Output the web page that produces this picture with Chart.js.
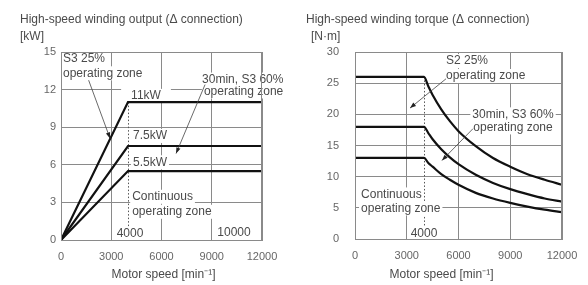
<!DOCTYPE html>
<html><head><meta charset="utf-8">
<script src="https://cdn.jsdelivr.net/npm/chart.js@4.4.1/dist/chart.umd.min.js"></script>
<style>
html,body{margin:0;padding:0;background:#fff;width:588px;height:285px;overflow:hidden}
canvas{position:absolute;top:0}
</style></head><body>
<canvas id="outChart" style="left:0" width="294" height="285"></canvas>
<canvas id="torqueChart" style="left:294px" width="294" height="285"></canvas>
<script>
// ---- Data: output chart (kW) ----
const outputSpeed = [0, 4000, 12000];
const output11kW = [0, 11, 11];
const output75kW = [0, 7.5, 7.5];
const output55kW = [0, 5.5, 5.5];
// ---- Data: torque chart (N·m) ----
const torqueSpeed = [0, 4000, 4250, 4500, 5000, 5500, 6000, 7000, 8000, 9000, 10000, 11000, 12000];
const torqueS2 = [26, 26, 24.5, 23.1, 20.8, 18.9, 17.3, 14.9, 13.0, 11.6, 10.4, 9.5, 8.7];
const torque30min = [18, 18, 17.0, 16.0, 14.4, 13.1, 12.0, 10.3, 9.0, 8.0, 7.2, 6.5, 6.0];
const torqueCont = [13, 13, 12.2, 11.6, 10.4, 9.5, 8.7, 7.4, 6.5, 5.8, 5.2, 4.7, 4.3];
// ---- Tick labels ----
const speedTicks = [0, 3000, 6000, 9000, 12000];
const outputTicks = [0, 3, 6, 9, 12, 15];
const torqueTicks = [0, 5, 10, 15, 20, 25, 30];
// ---- Texts ----
const outTitle = 'High-speed winding output (Δ connection)';
const outUnit = '[kW]';
const torqueTitle = 'High-speed winding torque (Δ connection)';
const torqueUnit = '[N·m]';
const speedTitle = 'Motor speed [min⁻¹]';

const FONT = '"Liberation Sans", Arial, Helvetica, sans-serif';
const TXT = '#4a4a4a';
const GRID = '#8a8a8a';

function pts(xs, ys) { return xs.map((x, i) => ({x: x, y: ys[i]})); }

function drawArrow(ctx, x0, y0, x1, y1) {
  ctx.beginPath(); ctx.moveTo(x0, y0); ctx.lineTo(x1, y1); ctx.stroke();
  const a = Math.atan2(y1 - y0, x1 - x0), L = 6, W = 2.2;
  ctx.beginPath();
  ctx.moveTo(x1, y1);
  ctx.lineTo(x1 - L * Math.cos(a) + W * Math.sin(a), y1 - L * Math.sin(a) - W * Math.cos(a));
  ctx.lineTo(x1 - L * Math.cos(a) - W * Math.sin(a), y1 - L * Math.sin(a) + W * Math.cos(a));
  ctx.closePath(); ctx.fill();
}

const annotPlugin = {
  id: 'annot',
  beforeDatasetsDraw(chart, args, o) {
    const ctx = chart.ctx, xs = chart.scales.x, ys = chart.scales.y;
    ctx.save();
    if (o.marker) {
      ctx.strokeStyle = '#555'; ctx.lineWidth = 1; ctx.setLineDash([1.5, 2]);
      const x = Math.round(xs.getPixelForValue(o.marker.x)) + 0.5;
      ctx.beginPath();
      ctx.moveTo(x, ys.getPixelForValue(o.marker.y0));
      ctx.lineTo(x, ys.getPixelForValue(o.marker.y1));
      ctx.stroke(); ctx.setLineDash([]);
    }
    ctx.font = '12px ' + FONT; ctx.textBaseline = 'middle'; ctx.textAlign = 'left';
    const items = o.labels.map(l => {
      const px = xs.getPixelForValue(l.x), py = ys.getPixelForValue(l.y);
      const w = ctx.measureText(l.text).width;
      const left = l.align === 'left' ? px : (l.align === 'right' ? px - w : px - w / 2);
      return {l, left, py, w};
    });
    ctx.fillStyle = '#fff';
    items.forEach(it => {
      const p = it.l.padX !== undefined ? it.l.padX : 2;
      ctx.fillRect(it.left - p, it.py - 7, it.w + 2 * p, 14);
    });
    ctx.fillStyle = TXT;
    items.forEach(it => ctx.fillText(it.l.text, it.left, it.py));
    ctx.restore();
  },
  afterDatasetsDraw(chart, args, o) {
    const ctx = chart.ctx, xs = chart.scales.x, ys = chart.scales.y, a = chart.chartArea;
    ctx.save();
    ctx.strokeStyle = GRID; ctx.lineWidth = 1;
    ctx.beginPath();
    ctx.moveTo(a.left, Math.round(a.top) + 0.5); ctx.lineTo(a.right, Math.round(a.top) + 0.5);
    ctx.moveTo(Math.round(a.right) - 0.5, a.top); ctx.lineTo(Math.round(a.right) - 0.5, a.bottom);
    ctx.stroke();
    ctx.strokeStyle = '#444'; ctx.fillStyle = '#222'; ctx.lineWidth = 0.8;
    (o.leaders || []).forEach(l => drawArrow(ctx,
      xs.getPixelForValue(l.x0), ys.getPixelForValue(l.y0),
      xs.getPixelForValue(l.x1), ys.getPixelForValue(l.y1)));
    ctx.restore();
  },
  afterDraw(chart, args, o) {
    const ctx = chart.ctx, a = chart.chartArea;
    ctx.save();
    ctx.fillStyle = TXT; ctx.textBaseline = 'middle';
    ctx.font = '12px ' + FONT;
    ctx.textAlign = 'left';
    ctx.fillText(o.title, o.titleX, 20);
    ctx.fillText(o.unit, o.unitX, 37);
    ctx.textAlign = 'center';
    ctx.fillText(speedTitle, (a.left + a.right) / 2 + o.xTitleShift, 275);
    ctx.restore();
  }
};

function lineDs(data, smooth) {
  return {data: data, showLine: true, borderColor: '#111', borderWidth: 2.2, pointRadius: 0,
          fill: false, tension: 0, cubicInterpolationMode: smooth ? 'monotone' : 'default'};
}

function makeOptions(yMax, yTicks, yPad, padRight, padBottom, annot) {
  return {
    responsive: false, animation: false, devicePixelRatio: 1,
    layout: {padding: {left: 0, top: 52, right: padRight, bottom: padBottom}},
    plugins: {legend: {display: false}, tooltip: {enabled: false}, annot: annot},
    scales: {
      x: {type: 'linear', min: 0, max: 12000,
          afterBuildTicks: s => { s.ticks = speedTicks.map(v => ({value: v})); },
          afterFit: s => { s.height = 42; },
          grid: {color: GRID, lineWidth: 1, drawTicks: false},
          border: {color: GRID, width: 1, z: 1},
          ticks: {padding: 10, color: '#666', font: {family: FONT, size: 11}, maxRotation: 0,
                  callback: v => String(v)}},
      y: {type: 'linear', min: 0, max: yMax,
          afterBuildTicks: s => { s.ticks = yTicks.map(v => ({value: v})); },
          afterFit: s => { s.width = 61; },
          grid: {color: GRID, lineWidth: 1, drawTicks: false},
          border: {color: GRID, width: 1, z: 1},
          ticks: {padding: yPad, color: '#666', font: {family: FONT, size: 11},
                  callback: v => String(v)}}
    }
  };
}

new Chart(document.getElementById('outChart'), {
  type: 'scatter',
  data: {datasets: [
    lineDs(pts(outputSpeed, output11kW)),
    lineDs(pts(outputSpeed, output75kW)),
    lineDs(pts(outputSpeed, output55kW))
  ]},
  options: makeOptions(15, outputTicks, 5, 32, 3, {
    title: outTitle, titleX: 20, unit: outUnit, unitX: 20, xTitleShift: 2,
    marker: {x: 4000, y0: 11, y1: 0},
    labels: [
      {text: 'S3 25%', x: 120, y: 14.45, align: 'left'},
      {text: 'operating zone', x: 120, y: 13.3, align: 'left'},
      {text: '30min, S3 60%', x: 10850, y: 12.8, align: 'center'},
      {text: 'operating zone', x: 10900, y: 11.85, align: 'center'},
      {text: '11kW', x: 5075, y: 11.5, align: 'center', padX: 10},
      {text: '7.5kW', x: 4300, y: 8.3, align: 'left'},
      {text: '5.5kW', x: 4300, y: 6.2, align: 'left'},
      {text: 'Continuous', x: 4250, y: 3.45, align: 'left'},
      {text: 'operating zone', x: 4250, y: 2.25, align: 'left'},
      {text: '4000', x: 4120, y: 0.5, align: 'center'},
      {text: '10000', x: 10330, y: 0.55, align: 'center'}
    ],
    leaders: [
      {x0: 1650, y0: 12.75, x1: 2930, y1: 8.1},
      {x0: 8600, y0: 12.4, x1: 6870, y1: 6.9}
    ]
  }),
  plugins: [annotPlugin]
});

new Chart(document.getElementById('torqueChart'), {
  type: 'scatter',
  data: {datasets: [
    lineDs(pts(torqueSpeed, torqueS2), true),
    lineDs(pts(torqueSpeed, torque30min), true),
    lineDs(pts(torqueSpeed, torqueCont), true)
  ]},
  options: makeOptions(30, torqueTicks, 16, 26, 4, {
    title: torqueTitle, titleX: 12, unit: torqueUnit, unitX: 17, xTitleShift: -17,
    marker: {x: 4000, y0: 26, y1: 0},
    labels: [
      {text: 'S2 25%', x: 5275, y: 28.55, align: 'left'},
      {text: 'operating zone', x: 5275, y: 26.15, align: 'left'},
      {text: '30min, S3 60%', x: 9160, y: 20.0, align: 'center'},
      {text: 'operating zone', x: 9160, y: 17.9, align: 'center'},
      {text: 'Continuous', x: 350, y: 7.15, align: 'left'},
      {text: 'operating zone', x: 350, y: 4.9, align: 'left'},
      {text: '4000', x: 4000, y: 0.8, align: 'center'}
    ],
    leaders: [
      {x0: 5275, y0: 25.7, x1: 3190, y1: 21.0},
      {x0: 6840, y0: 17.7, x1: 5040, y1: 12.6}
    ]
  }),
  plugins: [annotPlugin]
});
</script>
</body></html>
